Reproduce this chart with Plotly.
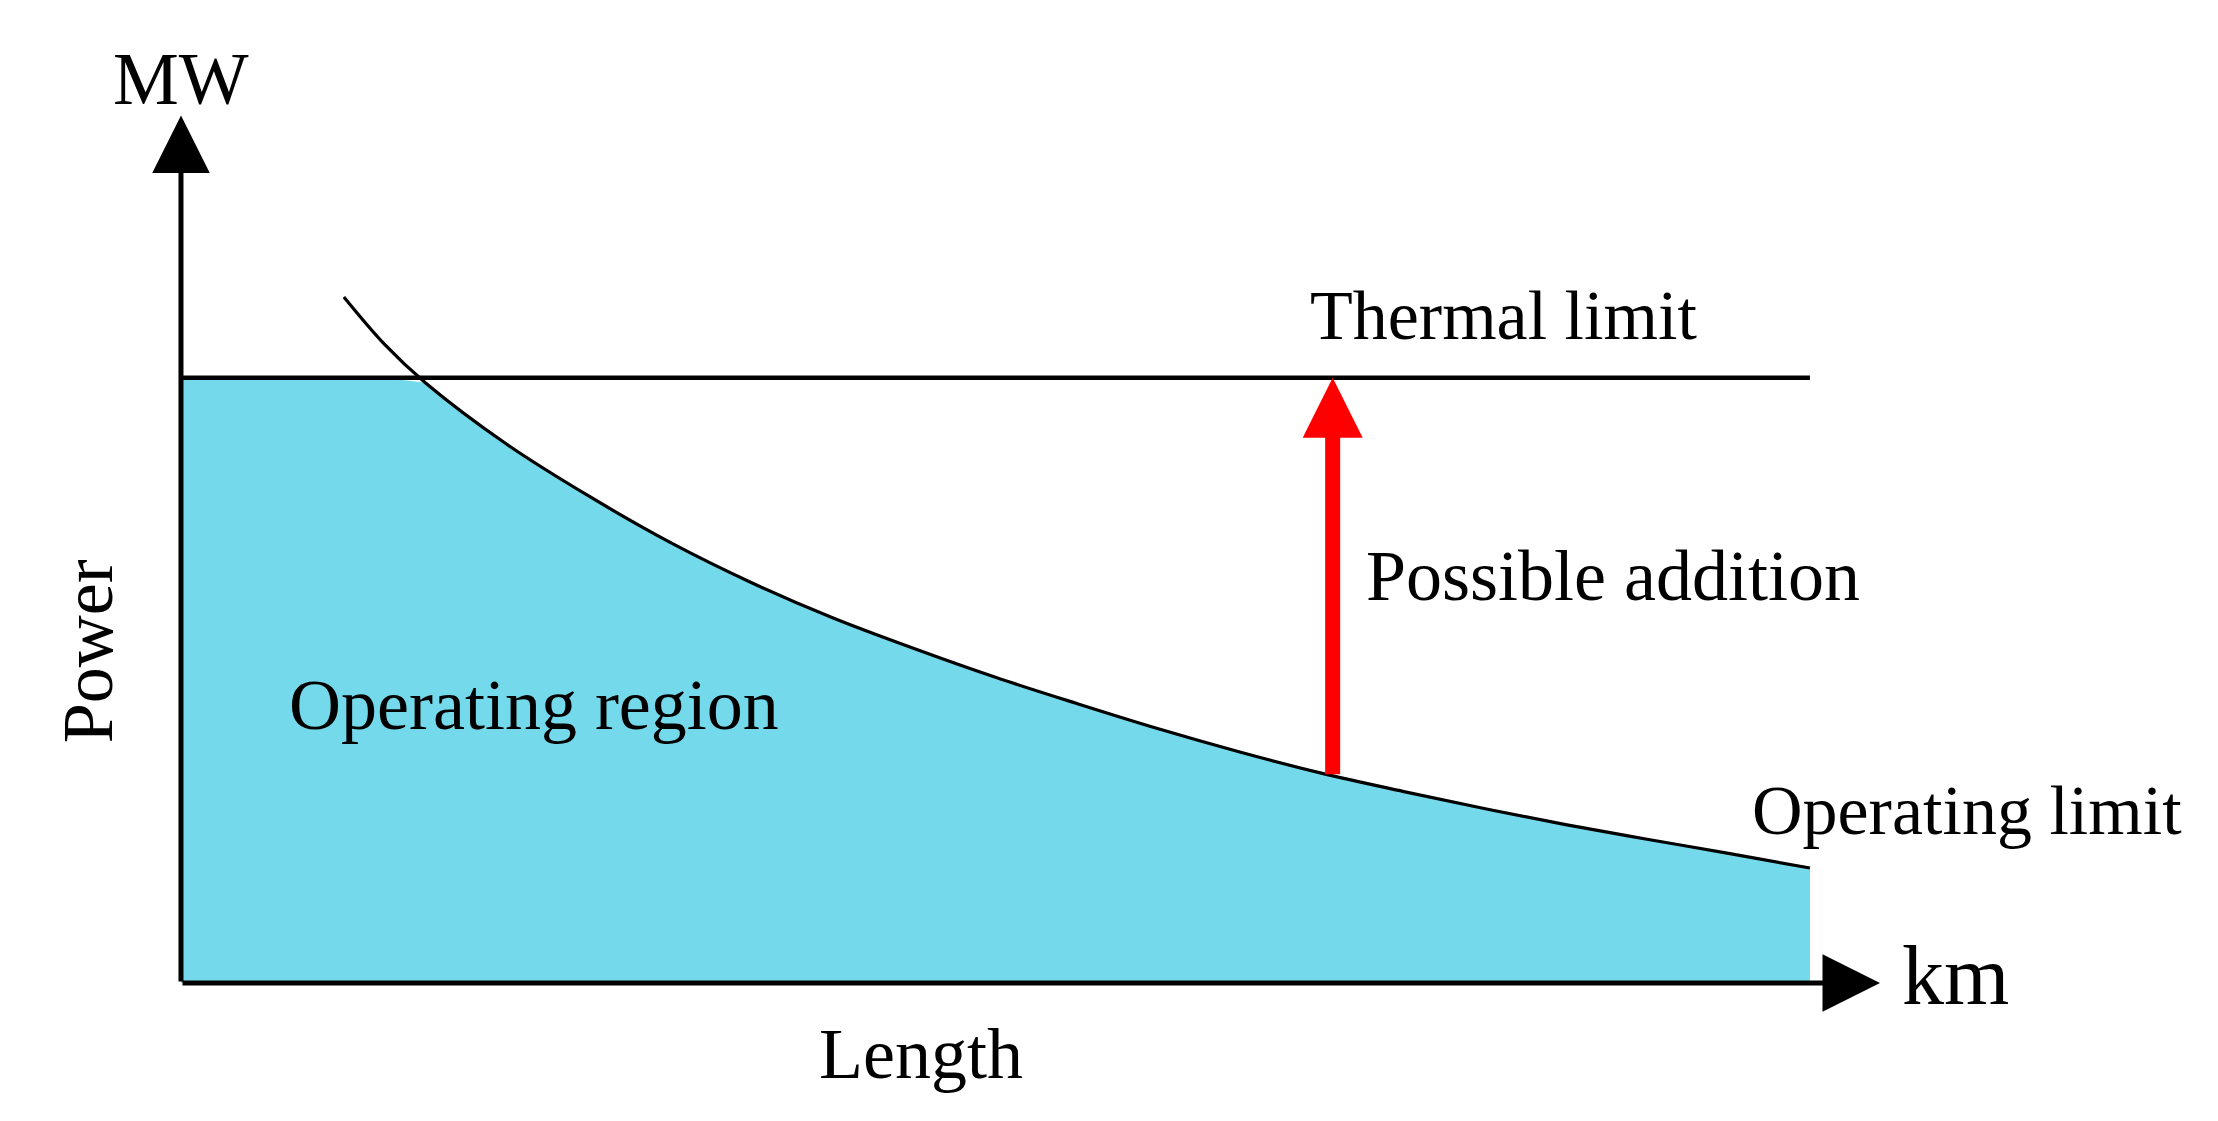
import numpy as np
import plotly.graph_objects as go

# line length (arbitrary km units) and transferable power (arbitrary MW units)
length_km = [10, 12.5, 15, 20, 25, 30, 35, 40, 45, 50, 55, 60, 65, 70, 75, 80, 85, 90, 95, 100]
operating_limit_mw = [68, 63.3, 59.5, 53.4, 48.3, 43.7, 39.7, 36.2, 33.15, 30.3, 27.7, 25.2,
                      22.9, 20.8, 19.0, 17.3, 15.7, 14.25, 12.85, 11.4]
thermal_limit_mw = 60
max_length_km = 100
addition_at_km = 70.7

FONT = "Liberation Serif"
FILL = "#74D9EA"

# the region below both limits
region_y = np.minimum(operating_limit_mw, thermal_limit_mw)
poly_x = [0] + length_km + [max_length_km, 0]
poly_y = [thermal_limit_mw] + list(region_y) + [0, 0]

fig = go.Figure()
fig.add_trace(go.Scatter(x=poly_x, y=poly_y, mode="lines", fill="toself",
                         fillcolor=FILL, line=dict(width=0), hoverinfo="skip"))
fig.add_trace(go.Scatter(x=[0, max_length_km], y=[thermal_limit_mw] * 2, mode="lines",
                         line=dict(color="black", width=4.5)))
fig.add_trace(go.Scatter(x=length_km, y=operating_limit_mw, mode="lines",
                         line=dict(color="black", width=3.2, shape="spline", smoothing=1)))

addition_base = float(np.interp(addition_at_km, length_km, operating_limit_mw))


def arrow(x, y, ax, ay, color, width, size):
    fig.add_annotation(x=x, y=y, ax=ax, ay=ay, xref="x", yref="y", axref="x", ayref="y",
                       text="", showarrow=True, arrowhead=2, arrowsize=size,
                       arrowwidth=width, arrowcolor=color)


# axes drawn as arrows
arrow(0, 86, 0, 0, "black", 5, 2.3)
arrow(104.3, 0, 0, 0, "black", 5, 2.3)
# possible addition
arrow(addition_at_km, thermal_limit_mw, addition_at_km, addition_base, "#FF0000", 15, 0.8)


def label(text, x, y, size, xanchor="center", angle=0):
    fig.add_annotation(x=x, y=y, xref="x", yref="y", text=text, showarrow=False,
                       xanchor=xanchor, yanchor="middle", textangle=angle,
                       font=dict(family=FONT, size=size, color="black"))


label("MW", 0, 89.6, 74)
label("km", 105.5, 0.7, 84, xanchor="left")
label("Length", 45.4, -7.0, 72)
label("Power", -5.7, 32.9, 72, angle=-90)
label("Thermal limit", 81.2, 66.2, 70)
label("Possible addition", 72.6, 40.3, 72, xanchor="left")
label("Operating region", 6.5, 27.6, 72, xanchor="left")
label("Operating limit", 96.3, 17.05, 70, xanchor="left")

fig.update_xaxes(visible=False, range=[-11.11, 125.05])
fig.update_yaxes(visible=False, range=[-13.68, 97.44])
fig.update_layout(width=2218, height=1121, margin=dict(l=0, r=0, t=0, b=0, pad=0),
                  plot_bgcolor="white", paper_bgcolor="white", showlegend=False)

fig.write_html("out.html", config={"displayModeBar": False},
               post_script="document.body.style.margin='0';")
